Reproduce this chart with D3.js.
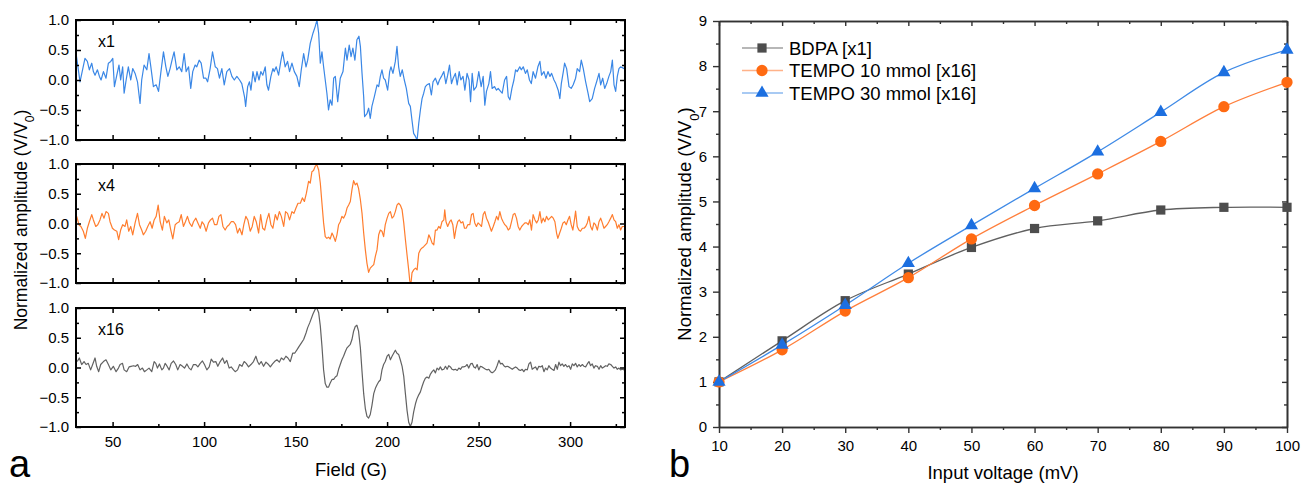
<!DOCTYPE html>
<html>
<head>
<meta charset="utf-8">
<script src="https://cdn.jsdelivr.net/npm/d3@7"></script>
<style>
  body { margin: 0; background: #fff; }
  svg { font-family: "Liberation Sans", Arial, sans-serif; }
  .frame { fill: none; stroke: #000; stroke-width: 2; }
</style>
</head>
<body>
<svg width="1303" height="486"></svg>
<script>
// ---- panel a : field sweeps, [field (G), normalized amplitude] ----
var traceX1 = [[30.0,0.45],[32.2,-0.03],[34.9,0.36],[36.2,0.31],[37.3,0.17],[38.6,0.28],[39.5,0.14],[40.4,0.08],[41.7,0.17],[42.8,0.06],[43.7,0.0],[45.0,0.14],[46.4,0.03],[47.7,0.28],[49.0,0.31],[50.1,0.36],[51.0,-0.11],[52.3,0.08],[53.5,0.25],[54.4,0.0],[55.5,0.22],[56.3,-0.22],[57.4,0.0],[58.6,0.22],[59.9,0.0],[61.0,0.19],[62.3,0.11],[63.6,-0.03],[65.0,-0.39],[65.9,0.0],[67.2,0.25],[68.7,0.17],[69.9,0.44],[70.9,0.22],[72.3,-0.11],[73.8,-0.08],[75.1,-0.19],[76.3,0.11],[77.8,0.47],[79.1,0.22],[80.2,0.06],[81.4,0.19],[82.7,0.36],[83.6,0.47],[85.1,0.17],[86.4,0.22],[87.8,0.14],[89.1,0.44],[90.2,0.14],[91.5,0.22],[92.7,-0.14],[93.8,0.14],[95.1,0.25],[96.0,0.22],[97.3,0.33],[98.4,0.28],[99.7,0.03],[101.0,0.03],[101.9,-0.03],[103.3,0.19],[104.6,0.47],[106.1,0.22],[107.3,0.19],[108.4,0.03],[109.7,0.19],[111.0,-0.08],[112.4,0.14],[113.9,0.19],[115.2,0.06],[116.5,0.0],[117.9,0.06],[119.4,0.0],[120.6,-0.06],[122.1,-0.28],[122.7,-0.44],[123.8,-0.11],[124.8,-0.03],[125.6,-0.17],[126.7,0.14],[127.9,-0.03],[128.9,0.14],[130.0,0.0],[131.0,0.14],[132.1,0.08],[133.4,0.22],[134.3,-0.08],[135.2,-0.17],[136.5,0.06],[137.6,0.19],[138.3,0.14],[139.4,0.22],[140.7,0.08],[141.9,0.31],[142.9,0.47],[144.3,0.22],[145.6,0.31],[146.7,0.14],[148.0,0.28],[149.3,0.14],[150.7,0.06],[152.0,-0.11],[153.1,0.17],[154.4,0.44],[155.7,0.22],[156.6,0.33],[158.0,0.61],[159.5,0.78],[160.7,0.89],[161.7,1.0],[162.6,0.78],[163.5,0.28],[164.4,0.47],[165.3,0.22],[166.2,0.0],[167.1,-0.22],[168.0,-0.5],[168.9,-0.33],[169.9,-0.42],[170.8,0.03],[171.7,0.06],[173.0,-0.36],[174.4,0.03],[175.9,0.14],[177.2,0.53],[178.1,0.33],[179.3,0.58],[180.3,0.39],[181.3,0.53],[182.4,0.33],[183.5,0.67],[184.6,0.73],[185.4,0.56],[186.3,0.11],[187.2,-0.28],[187.7,-0.61],[189.0,-0.56],[189.9,-0.47],[190.8,-0.64],[191.7,-0.44],[193.0,-0.28],[194.5,-0.08],[195.4,-0.11],[196.3,0.06],[197.2,0.17],[198.1,0.03],[199.0,0.0],[200.3,-0.17],[201.4,0.14],[202.1,0.22],[203.2,0.11],[204.5,0.31],[205.4,0.56],[206.3,0.22],[207.2,0.06],[208.3,0.17],[209.4,0.0],[210.5,-0.14],[211.8,-0.39],[212.7,-0.44],[213.6,-0.67],[214.5,-0.89],[215.5,-0.94],[216.4,-1.0],[217.3,-0.72],[218.2,-0.5],[219.1,-0.31],[220.0,-0.22],[220.9,-0.11],[221.8,-0.08],[223.1,-0.06],[224.2,-0.25],[225.1,-0.03],[226.4,0.03],[227.7,-0.08],[228.6,0.0],[229.7,0.06],[231.0,0.14],[232.1,-0.06],[233.1,0.08],[234.1,0.25],[235.2,-0.06],[236.1,0.03],[237.3,0.11],[238.3,-0.08],[239.4,0.14],[240.3,0.0],[241.5,0.06],[242.5,-0.17],[243.7,0.11],[244.8,0.0],[245.6,-0.36],[246.5,0.11],[247.4,-0.17],[248.8,-0.11],[250.1,0.14],[251.4,-0.11],[252.5,0.06],[253.4,-0.42],[254.3,-0.19],[255.6,-0.06],[256.5,0.14],[257.4,-0.14],[258.7,-0.11],[259.8,-0.17],[260.7,-0.14],[262.0,-0.19],[262.9,-0.22],[264.2,0.0],[265.3,0.06],[266.2,-0.28],[267.1,-0.33],[268.2,-0.14],[269.3,0.0],[270.2,0.17],[271.1,0.14],[272.5,0.22],[273.3,0.17],[274.4,0.22],[275.6,0.11],[276.6,0.17],[277.8,0.0],[278.8,-0.06],[279.8,0.14],[281.1,0.03],[282.4,0.22],[283.5,0.31],[284.4,0.08],[285.7,0.14],[286.8,0.03],[287.9,0.14],[289.0,0.06],[289.9,0.11],[291.2,0.0],[292.2,-0.06],[293.5,-0.17],[294.4,-0.31],[295.2,-0.06],[296.3,0.14],[297.0,0.28],[298.1,0.19],[299.4,-0.11],[300.6,-0.14],[301.7,-0.08],[303.0,0.03],[303.9,0.19],[305.2,0.14],[306.1,0.33],[307.2,0.19],[308.5,-0.03],[309.8,-0.22],[310.7,-0.36],[312.1,-0.31],[313.4,-0.14],[314.5,-0.03],[315.8,0.11],[316.7,-0.08],[317.8,0.03],[318.9,-0.14],[320.0,-0.06],[321.2,0.06],[322.2,0.14],[323.1,0.33],[324.0,-0.08],[324.9,-0.19],[325.8,0.06],[326.7,0.19],[327.6,0.22],[329.5,0.19]];

var traceX4 = [[30.4,0.12],[31.6,-0.02],[32.7,-0.05],[34.0,-0.13],[35.1,-0.25],[36.2,-0.08],[37.3,0.03],[38.6,0.15],[39.5,0.06],[40.8,-0.05],[41.9,-0.02],[43.1,0.06],[44.2,0.17],[45.3,0.09],[46.4,0.2],[47.7,0.17],[48.6,0.03],[49.9,-0.08],[51.0,-0.11],[52.3,-0.13],[53.3,-0.27],[54.4,-0.11],[55.5,-0.02],[56.8,-0.05],[57.7,0.06],[58.8,-0.13],[59.9,-0.05],[61.0,-0.19],[62.3,0.01],[63.6,0.17],[64.7,-0.02],[65.9,-0.11],[66.8,-0.19],[68.1,-0.13],[69.2,-0.05],[70.5,0.03],[71.6,-0.08],[72.7,0.06],[73.8,0.12],[74.9,0.31],[76.0,0.03],[77.2,-0.11],[78.3,0.12],[79.6,0.01],[80.7,0.06],[81.8,-0.11],[82.9,-0.26],[84.2,-0.02],[85.3,0.01],[86.4,0.03],[87.5,0.15],[88.7,-0.05],[89.8,0.03],[90.9,0.12],[92.0,0.01],[93.3,-0.05],[94.2,0.03],[95.5,0.09],[96.6,0.01],[97.9,-0.08],[98.9,0.03],[100.0,-0.02],[101.1,-0.13],[102.4,0.01],[103.5,0.06],[104.6,0.09],[105.7,-0.02],[107.0,-0.02],[108.1,0.12],[109.2,0.15],[110.3,-0.05],[111.5,-0.11],[112.6,-0.05],[113.7,-0.02],[114.8,0.03],[116.1,0.03],[117.2,-0.02],[118.3,-0.16],[119.4,-0.08],[120.7,-0.19],[121.7,-0.02],[122.8,0.12],[123.9,0.06],[125.2,-0.13],[126.3,-0.05],[127.4,0.12],[128.5,0.03],[129.8,-0.16],[130.9,0.15],[132.0,-0.08],[133.1,-0.11],[134.3,0.06],[135.4,0.17],[136.5,-0.02],[137.6,-0.08],[138.9,0.15],[140.0,0.06],[141.1,0.2],[142.2,0.12],[143.5,-0.05],[144.5,0.2],[145.6,0.17],[146.7,0.06],[148.0,0.2],[149.1,0.17],[150.2,0.26],[151.3,0.34],[152.6,0.34],[153.7,0.43],[154.8,0.37],[155.9,0.51],[157.1,0.71],[158.0,0.68],[158.9,0.87],[159.8,0.89],[160.7,0.96],[161.6,0.99],[162.6,0.9],[163.5,0.68],[164.4,0.34],[165.3,0.01],[166.2,-0.22],[167.1,-0.25],[168.0,-0.23],[168.9,-0.26],[169.9,-0.16],[170.8,-0.22],[171.7,-0.3],[172.6,-0.19],[173.5,-0.02],[174.4,0.03],[175.3,0.12],[176.2,0.09],[177.2,0.15],[178.1,0.26],[179.0,0.31],[179.9,0.37],[180.8,0.57],[181.7,0.72],[182.6,0.65],[183.5,0.68],[184.4,0.59],[185.4,0.4],[186.3,0.17],[187.2,-0.16],[188.1,-0.44],[189.0,-0.67],[189.9,-0.82],[190.8,-0.75],[191.7,-0.72],[192.7,-0.69],[193.6,-0.55],[194.5,-0.44],[195.4,-0.19],[196.3,-0.11],[197.2,-0.13],[198.1,-0.22],[199.0,-0.02],[200.0,0.09],[200.9,0.17],[201.8,0.2],[202.7,0.09],[203.6,0.12],[204.5,0.2],[205.4,0.31],[206.3,0.34],[207.2,0.31],[208.2,0.23],[209.1,0.01],[210.0,-0.27],[210.9,-0.53],[211.8,-0.78],[212.4,-0.97],[213.1,-0.99],[213.6,-0.83],[214.5,-0.78],[215.5,-0.75],[216.4,-0.78],[217.3,-0.5],[218.2,-0.44],[219.1,-0.41],[220.0,-0.39],[220.9,-0.36],[221.8,-0.33],[222.8,-0.19],[223.7,-0.25],[224.6,-0.33],[225.5,-0.36],[226.4,-0.11],[227.3,-0.11],[228.2,-0.05],[229.1,-0.08],[230.0,0.03],[231.0,0.06],[231.5,0.23],[232.2,0.03],[233.1,-0.05],[234.2,0.03],[235.0,0.06],[235.9,-0.02],[236.8,-0.25],[237.7,-0.08],[238.6,0.03],[239.5,0.06],[240.4,0.01],[241.4,0.03],[242.3,-0.08],[243.2,-0.08],[244.1,-0.02],[245.2,-0.02],[246.1,0.15],[247.0,0.17],[247.9,0.01],[248.8,-0.05],[249.7,0.01],[250.7,-0.02],[251.6,-0.05],[252.5,0.15],[253.4,0.2],[254.3,0.09],[255.2,0.03],[256.1,-0.05],[257.0,-0.13],[258.0,-0.05],[258.9,0.03],[259.8,0.12],[260.7,0.06],[261.6,0.2],[262.5,0.09],[263.4,0.03],[264.3,-0.02],[265.3,-0.05],[266.2,-0.11],[267.1,-0.08],[268.0,0.03],[268.9,0.15],[269.8,0.17],[270.7,0.09],[271.6,-0.05],[272.5,-0.11],[273.5,-0.05],[274.4,-0.02],[275.3,0.01],[276.2,0.01],[277.1,-0.02],[278.0,0.06],[278.9,-0.11],[279.8,0.15],[280.8,0.06],[281.7,0.01],[282.6,0.06],[283.5,0.2],[284.4,0.01],[285.3,0.09],[286.2,0.03],[287.1,0.12],[288.1,0.06],[289.0,0.09],[289.9,0.12],[290.8,0.09],[291.7,0.03],[292.6,-0.16],[293.3,-0.25],[294.3,-0.16],[295.2,-0.08],[296.1,0.01],[297.0,0.03],[297.9,-0.02],[298.8,0.06],[299.7,0.12],[300.6,-0.02],[301.5,-0.11],[302.5,0.09],[303.0,0.21],[303.9,-0.05],[304.8,-0.11],[305.7,-0.13],[306.7,-0.08],[307.6,-0.08],[308.5,-0.05],[309.4,0.01],[310.3,0.12],[311.2,-0.05],[312.1,-0.11],[313.0,0.01],[313.9,-0.02],[314.9,-0.11],[315.8,0.03],[316.7,0.09],[317.6,0.01],[318.5,-0.08],[319.4,-0.05],[320.3,-0.02],[321.2,0.03],[322.2,0.09],[323.1,0.15],[324.0,0.06],[324.9,0.03],[325.8,-0.08],[326.7,-0.02],[327.6,-0.11],[328.5,-0.05],[329.5,-0.05]];

var traceX16 = [[30.7,0.1],[31.8,0.16],[33.1,0.05],[34.4,0.1],[35.5,0.05],[36.7,0.07],[38.0,-0.04],[39.1,0.05],[40.4,0.16],[41.3,0.02],[42.4,-0.07],[43.5,0.05],[45.0,0.1],[46.4,0.13],[47.7,0.05],[49.0,-0.04],[50.4,0.02],[51.9,-0.07],[53.2,-0.01],[54.1,0.05],[55.4,0.07],[56.3,-0.04],[57.7,-0.07],[59.0,0.01],[60.1,0.02],[61.4,0.03],[62.6,0.02],[63.7,0.05],[65.0,-0.04],[66.3,-0.01],[67.4,-0.07],[68.7,-0.04],[69.9,-0.01],[71.4,-0.07],[72.7,0.1],[73.6,0.07],[74.5,-0.01],[75.6,0.06],[76.9,-0.04],[77.8,-0.01],[78.7,0.07],[79.6,0.03],[80.9,-0.04],[82.0,0.07],[83.3,0.11],[84.5,0.05],[85.6,-0.04],[86.9,0.05],[88.2,0.02],[89.3,-0.01],[90.6,0.06],[91.8,-0.01],[92.9,-0.04],[94.2,0.05],[95.5,0.05],[96.6,0.01],[97.9,0.07],[99.1,0.11],[100.2,0.05],[101.5,-0.04],[102.8,0.01],[103.9,0.14],[105.1,0.09],[106.4,0.1],[107.5,0.02],[108.8,0.1],[110.1,0.16],[111.2,0.07],[112.4,0.12],[113.7,-0.01],[114.8,0.01],[116.1,-0.04],[117.0,-0.07],[118.3,-0.04],[119.4,0.05],[120.7,0.02],[121.9,0.1],[123.0,0.07],[124.3,0.01],[125.6,0.05],[127.0,0.1],[128.3,0.19],[129.2,0.1],[130.1,0.05],[131.2,0.1],[132.5,0.02],[133.8,0.09],[134.9,0.06],[136.2,0.01],[137.4,0.06],[138.5,0.1],[139.8,0.13],[141.1,0.09],[142.2,0.16],[143.5,0.13],[144.7,0.19],[145.8,0.16],[147.1,0.1],[148.4,0.24],[149.5,0.24],[150.8,0.3],[152.0,0.36],[153.1,0.41],[154.4,0.47],[155.7,0.58],[156.6,0.67],[157.7,0.75],[159.5,0.9],[160.7,0.98],[161.6,1.0],[162.6,0.92],[163.5,0.7],[164.4,0.36],[165.3,-0.04],[166.2,-0.27],[167.1,-0.33],[168.0,-0.33],[168.9,-0.26],[169.9,-0.2],[170.8,-0.2],[171.7,-0.16],[172.6,-0.14],[173.5,-0.03],[174.4,0.05],[175.3,0.13],[176.2,0.19],[177.2,0.27],[178.1,0.33],[179.0,0.36],[179.9,0.39],[180.8,0.47],[181.7,0.61],[182.6,0.69],[183.5,0.71],[184.4,0.61],[185.4,0.33],[186.3,-0.07],[187.2,-0.44],[188.1,-0.69],[189.0,-0.82],[189.9,-0.85],[190.8,-0.79],[191.7,-0.64],[192.7,-0.44],[193.6,-0.35],[194.5,-0.29],[195.4,-0.24],[196.3,-0.21],[197.2,-0.04],[198.1,0.05],[199.0,0.1],[200.0,0.19],[200.9,0.22],[201.8,0.13],[202.7,0.19],[203.6,0.24],[204.5,0.29],[205.4,0.24],[206.3,0.22],[207.2,0.13],[208.2,0.02],[209.1,-0.15],[210.0,-0.44],[210.9,-0.72],[211.8,-0.92],[212.7,-0.99],[213.6,-0.92],[214.5,-0.75],[215.5,-0.61],[216.4,-0.52],[217.3,-0.46],[218.2,-0.41],[219.1,-0.32],[220.0,-0.24],[220.9,-0.18],[221.8,-0.16],[222.8,-0.18],[223.7,-0.11],[224.6,-0.07],[225.5,-0.04],[226.4,-0.09],[227.3,-0.01],[228.2,-0.04],[229.1,0.01],[230.0,-0.04],[231.0,-0.03],[231.9,0.02],[232.8,-0.03],[233.7,0.03],[234.6,0.01],[235.5,-0.03],[236.4,-0.04],[237.3,-0.03],[238.3,-0.05],[239.2,-0.01],[240.1,-0.03],[241.0,0.01],[241.9,0.01],[242.8,0.02],[243.7,0.05],[244.6,-0.01],[245.6,0.06],[246.5,0.07],[247.4,0.01],[248.3,-0.01],[249.2,0.05],[250.1,-0.04],[251.0,0.02],[251.9,0.01],[252.8,-0.01],[253.8,-0.03],[254.7,-0.04],[255.6,-0.03],[256.5,-0.07],[257.4,-0.09],[258.3,-0.07],[259.2,-0.04],[260.1,0.03],[261.1,0.12],[262.0,0.06],[262.9,0.07],[263.8,0.03],[264.7,0.01],[265.6,0.02],[266.5,0.01],[267.4,-0.01],[268.4,-0.03],[269.3,-0.01],[270.2,0.01],[271.1,-0.01],[272.0,-0.04],[272.9,-0.05],[273.8,-0.03],[274.7,-0.07],[275.6,-0.03],[276.6,-0.04],[277.5,0.06],[278.4,0.09],[279.3,-0.03],[280.2,-0.01],[281.1,0.01],[282.0,-0.04],[282.9,0.02],[283.9,0.01],[284.8,0.03],[285.7,-0.07],[286.6,-0.01],[287.5,-0.04],[288.4,0.03],[289.3,-0.01],[290.2,-0.03],[291.2,-0.05],[292.1,0.05],[293.0,-0.03],[293.9,0.09],[294.8,0.03],[295.7,0.06],[296.6,0.02],[297.5,0.05],[298.4,0.01],[299.4,0.03],[300.3,-0.03],[301.2,0.06],[302.1,0.03],[303.0,0.07],[303.9,0.01],[304.8,0.05],[305.7,0.02],[306.7,0.05],[307.6,0.02],[308.5,0.01],[309.4,0.06],[310.3,0.1],[311.2,0.03],[312.1,0.06],[313.0,-0.01],[313.9,0.03],[314.9,0.02],[315.8,-0.03],[316.7,0.03],[317.6,-0.01],[318.5,0.01],[319.4,0.03],[320.3,0.02],[321.2,0.06],[322.2,0.05],[323.1,0.02],[324.0,-0.01],[324.9,0.01],[325.8,-0.03],[326.7,-0.01],[327.6,-0.04],[328.5,-0.03],[329.5,-0.04]];

var fieldTicks = [50, 100, 150, 200, 250, 300];
var fieldMinor = [75, 125, 175, 225, 275, 325];
var ampTicks = [-1, -0.5, 0, 0.5, 1];
var ampMinor = [-0.75, -0.25, 0.25, 0.75];

// ---- panel b : amplitude vs input voltage ----
var voltages = [10, 20, 30, 40, 50, 60, 70, 80, 90, 100];
var bdpa    = [1.0, 1.91, 2.80, 3.39, 3.98, 4.40, 4.57, 4.81, 4.87, 4.87];
var tempo10 = [1.0, 1.71, 2.57, 3.31, 4.17, 4.91, 5.61, 6.33, 7.10, 7.64];
var tempo30 = [1.0, 1.82, 2.70, 3.63, 4.47, 5.29, 6.10, 6.98, 7.86, 8.36];
var seriesNames = ["BDPA [x1]", "TEMPO 10 mmol [x16]", "TEMPO 30 mmol [x16]"];

var svg = d3.select("svg");
svg.append("rect").attr("width", 1303).attr("height", 486).attr("fill", "#fff");

var fieldX = d3.scaleLinear().domain([30, 330]).range([76, 625]);

var panels = [
  {data: traceX1, color: "#3a87e6", tag: "x1", top: 20, bottom: 140},
  {data: traceX4, color: "#ff7d2e", tag: "x4", top: 164, bottom: 283},
  {data: traceX16, color: "#626262", tag: "x16", top: 308, bottom: 427}
];

function styleAxis(g, size) {
  g.select(".domain").remove();
  g.selectAll("text").attr("font-size", size).attr("font-family", "Liberation Sans, Arial, sans-serif").attr("fill", "#000");
}

panels.forEach(function(p, i) {
  var y = d3.scaleLinear().domain([-1, 1]).range([p.bottom, p.top]);
  var g = svg.append("g");

  g.append("clipPath").attr("id", "clip" + i)
    .append("rect").attr("x", 76).attr("y", p.top - 1).attr("width", 549).attr("height", p.bottom - p.top + 2);

  var line = d3.line().x(function(d) { return fieldX(d[0]); }).y(function(d) { return y(d[1]); });
  g.append("path").datum(p.data)
    .attr("clip-path", "url(#clip" + i + ")")
    .attr("d", line).attr("fill", "none")
    .attr("stroke", p.color).attr("stroke-width", 1.2).attr("stroke-linejoin", "round");

  // left, with labels
  g.append("g").attr("transform", "translate(76,0)")
    .call(d3.axisLeft(y).tickValues(ampTicks).tickSize(-5).tickPadding(7).tickFormat(d3.format(".1f")))
    .call(styleAxis, 15);
  g.append("g").attr("transform", "translate(76,0)")
    .call(d3.axisLeft(y).tickValues(ampMinor).tickSize(-3).tickFormat(""))
    .call(styleAxis, 15);
  // right
  g.append("g").attr("transform", "translate(625,0)")
    .call(d3.axisRight(y).tickValues(ampTicks).tickSize(-5).tickFormat(""))
    .call(styleAxis, 15);
  g.append("g").attr("transform", "translate(625,0)")
    .call(d3.axisRight(y).tickValues(ampMinor).tickSize(-3).tickFormat(""))
    .call(styleAxis, 15);
  // top
  g.append("g").attr("transform", "translate(0," + p.top + ")")
    .call(d3.axisTop(fieldX).tickValues(fieldTicks).tickSize(-5).tickFormat(""))
    .call(styleAxis, 15);
  g.append("g").attr("transform", "translate(0," + p.top + ")")
    .call(d3.axisTop(fieldX).tickValues(fieldMinor).tickSize(-3).tickFormat(""))
    .call(styleAxis, 15);
  // bottom
  g.append("g").attr("transform", "translate(0," + p.bottom + ")")
    .call(d3.axisBottom(fieldX).tickValues(fieldTicks).tickSize(-5).tickPadding(9)
      .tickFormat(i == 2 ? d3.format("d") : ""))
    .call(styleAxis, 15);
  g.append("g").attr("transform", "translate(0," + p.bottom + ")")
    .call(d3.axisBottom(fieldX).tickValues(fieldMinor).tickSize(-3).tickFormat(""))
    .call(styleAxis, 15);

  g.selectAll(".tick line").attr("stroke", "#000").attr("stroke-width", 1.5);

  g.append("rect").attr("class", "frame")
    .attr("x", 76).attr("y", p.top).attr("width", 549).attr("height", p.bottom - p.top);

  g.append("text").attr("x", 98).attr("y", p.top + 27)
    .attr("font-size", 16).text(p.tag);
});

svg.append("text").attr("x", 351).attr("y", 476)
  .attr("text-anchor", "middle").attr("font-size", 18.5).text("Field (G)");

var ylabA = svg.append("text")
  .attr("transform", "translate(27,220) rotate(-90)")
  .attr("text-anchor", "middle").attr("font-size", 17.5);
ylabA.append("tspan").text("Normalized amplitude (V/V");
ylabA.append("tspan").attr("baseline-shift", "sub").attr("font-size", 12).text("0");
ylabA.append("tspan").text(")");

svg.append("text").attr("x", 9).attr("y", 477).attr("font-size", 38).text("a");

// ---------------- panel b ----------------
var vx = d3.scaleLinear().domain([10, 100]).range([719, 1287]);
var vy = d3.scaleLinear().domain([0, 9]).range([427, 21]);
var gb = svg.append("g");

var axisColor = "#333";
function styleB(g) {
  g.select(".domain").attr("stroke", axisColor).attr("stroke-width", 1.6);
  g.selectAll(".tick line").attr("stroke", axisColor).attr("stroke-width", 1.4);
  g.selectAll("text").attr("font-size", 15).attr("font-family", "Liberation Sans, Arial, sans-serif").attr("fill", "#000");
}
var minorV = d3.range(15, 100, 10);
var minorA = d3.range(0.5, 9, 1);

gb.append("g").attr("transform", "translate(0,427)")
  .call(d3.axisBottom(vx).tickValues(voltages).tickSize(6).tickSizeOuter(0).tickPadding(7).tickFormat(d3.format("d")))
  .call(styleB);
gb.append("g").attr("transform", "translate(0,427)")
  .call(d3.axisBottom(vx).tickValues(minorV).tickSize(3).tickSizeOuter(0).tickFormat(""))
  .call(styleB);
gb.append("g").attr("transform", "translate(0,21)")
  .call(d3.axisTop(vx).tickValues(voltages).tickSize(-5).tickSizeOuter(0).tickFormat(""))
  .call(styleB);
gb.append("g").attr("transform", "translate(0,21)")
  .call(d3.axisTop(vx).tickValues(minorV).tickSize(-3).tickSizeOuter(0).tickFormat(""))
  .call(styleB);
gb.append("g").attr("transform", "translate(719,0)")
  .call(d3.axisLeft(vy).ticks(9).tickSize(6).tickSizeOuter(0).tickPadding(6).tickFormat(d3.format("d")))
  .call(styleB);
gb.append("g").attr("transform", "translate(719,0)")
  .call(d3.axisLeft(vy).tickValues(minorA).tickSize(3).tickSizeOuter(0).tickFormat(""))
  .call(styleB);
gb.append("g").attr("transform", "translate(1287,0)")
  .call(d3.axisRight(vy).ticks(9).tickSize(-5).tickSizeOuter(0).tickFormat(""))
  .call(styleB);
gb.append("g").attr("transform", "translate(1287,0)")
  .call(d3.axisRight(vy).tickValues(minorA).tickSize(-3).tickSizeOuter(0).tickFormat(""))
  .call(styleB);

var series = [
  {name: seriesNames[0], values: bdpa, line: "#606060", fill: "#4d4d4d", shape: d3.symbolSquare, size: 85},
  {name: seriesNames[1], values: tempo10, line: "#ff7f3c", fill: "#ff6a12", shape: d3.symbolCircle, size: 100},
  {name: seriesNames[2], values: tempo30, line: "#3f8ae6", fill: "#1c6fe0", shape: d3.symbolTriangle, size: 75}
];

var curve = d3.line()
  .x(function(d, i) { return vx(voltages[i]); })
  .y(function(d) { return vy(d); })
  .curve(d3.curveCatmullRom.alpha(0.5));

series.forEach(function(s) {
  gb.append("path").datum(s.values).attr("d", curve)
    .attr("fill", "none").attr("stroke", s.line).attr("stroke-width", 1.3);
});
series.forEach(function(s) {
  gb.selectAll(null).data(s.values).enter().append("path")
    .attr("transform", function(d, i) { return "translate(" + vx(voltages[i]) + "," + vy(d) + ")"; })
    .attr("d", d3.symbol().type(s.shape).size(s.size))
    .attr("fill", s.fill);
});

// legend
var legend = gb.append("g").attr("transform", "translate(742,48)");
series.forEach(function(s, i) {
  var row = legend.append("g").attr("transform", "translate(0," + (i * 22.5) + ")");
  row.append("line").attr("x1", 0).attr("x2", 41).attr("stroke", s.line).attr("stroke-width", 1.3).attr("opacity", 0.6);
  row.append("path").attr("transform", "translate(20,0)")
    .attr("d", d3.symbol().type(s.shape).size(s.size)).attr("fill", s.fill);
  row.append("text").attr("x", 47).attr("dy", "0.36em").attr("font-size", 18.5).text(s.name);
});

svg.append("text").attr("x", 1003).attr("y", 479)
  .attr("text-anchor", "middle").attr("font-size", 18.5).text("Input voltage (mV)");

var ylabB = svg.append("text")
  .attr("transform", "translate(691,224) rotate(-90)")
  .attr("text-anchor", "middle").attr("font-size", 18.5);
ylabB.append("tspan").text("Normalized amplitude (V/V");
ylabB.append("tspan").attr("baseline-shift", "sub").attr("font-size", 13).text("0");
ylabB.append("tspan").text(")");

svg.append("text").attr("x", 669).attr("y", 477).attr("font-size", 38).text("b");
</script>
</body>
</html>
